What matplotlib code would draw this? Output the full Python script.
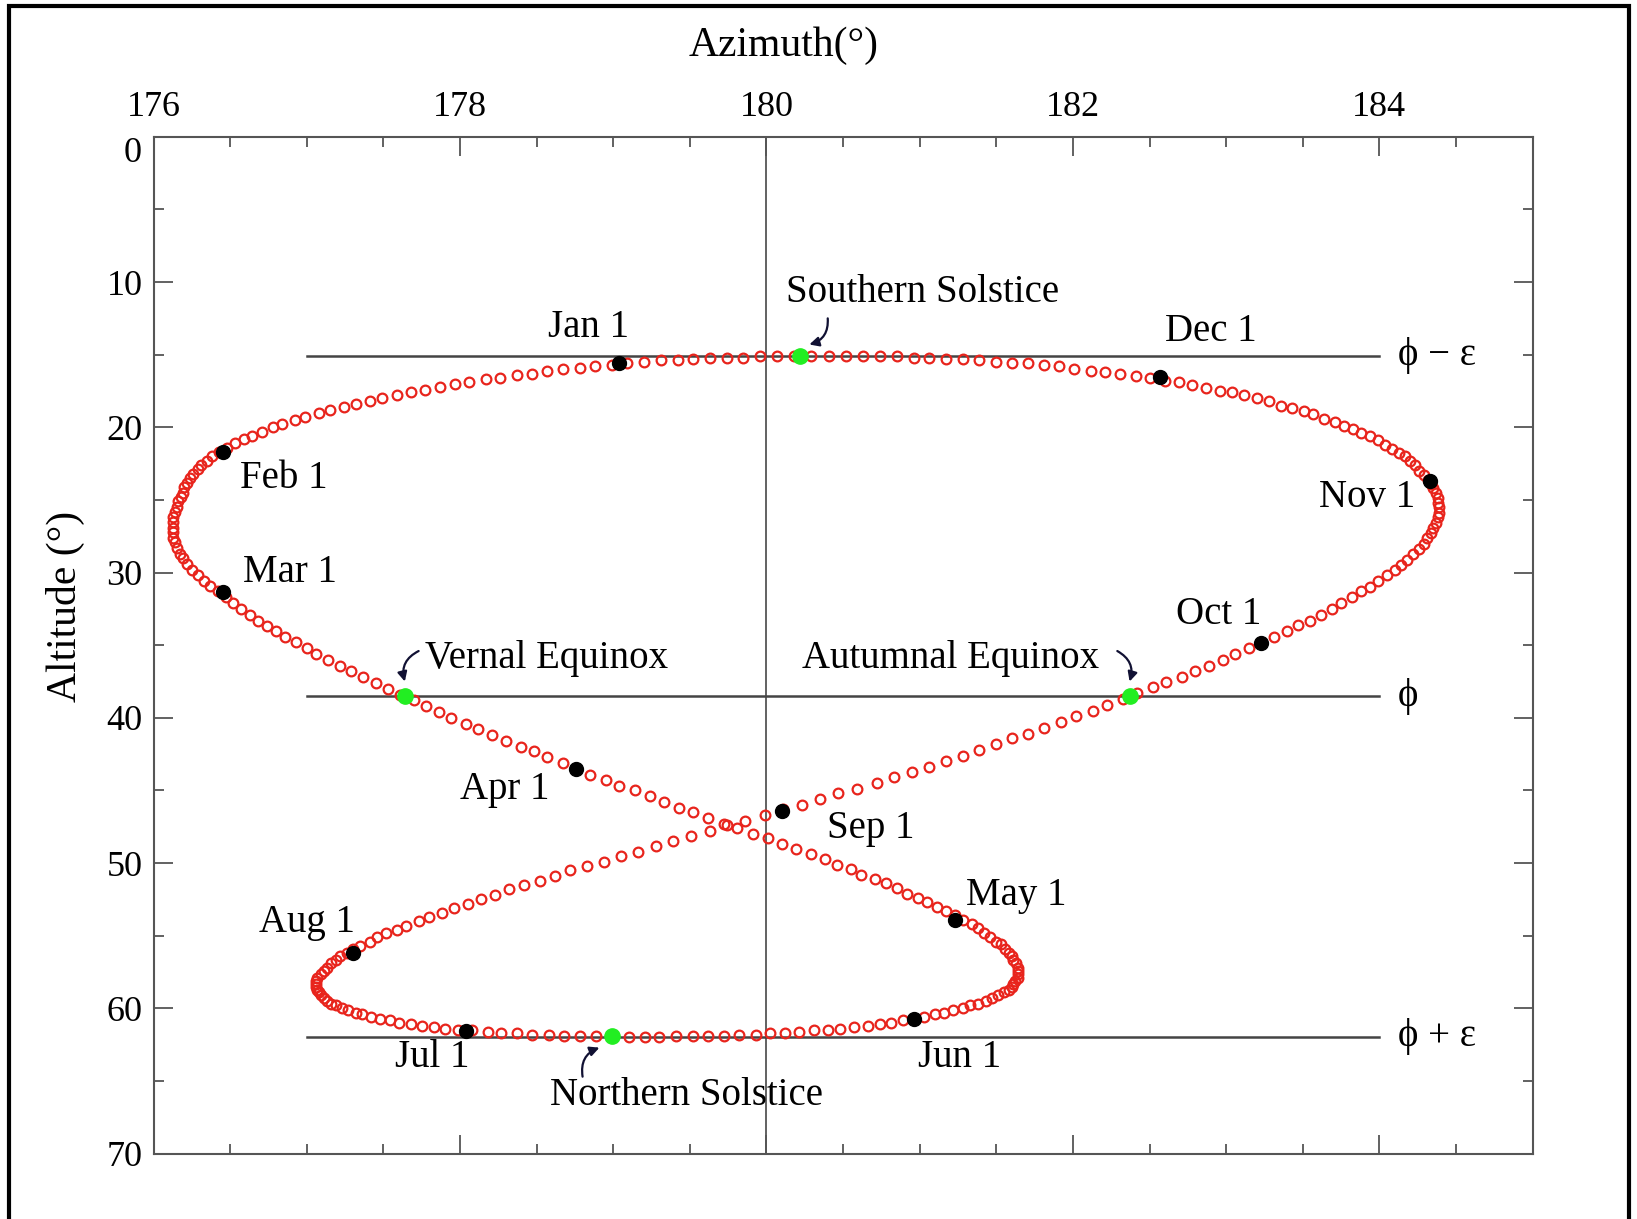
import numpy as np
import matplotlib
matplotlib.use('Agg')
import matplotlib.pyplot as plt
from matplotlib.patches import Rectangle
from matplotlib.ticker import MultipleLocator, FixedLocator, FixedFormatter

plt.rcParams['font.family'] = ['Liberation Serif', 'DejaVu Serif']

### Data

# noon azimuth, one value per day from Jan 1, as (azimuth - 176) * 100
az_centi = [
    331, 320, 309, 299, 288, 278, 267, 257, 247, 237, 226, 217, 206, 197, 187, 177, 168, 159, 149, 141,
    132, 124, 115, 108, 99, 92, 84, 78, 71, 64, 59, 53, 48, 43, 38, 35, 31, 29, 26, 24,
    22, 20, 19, 18, 16, 15, 14, 13, 13, 13, 13, 13, 14, 15, 17, 19, 22, 25, 29, 33,
    37, 42, 47, 52, 57, 63, 68, 74, 80, 86, 93, 100, 106, 114, 122, 129, 137, 145, 153, 161,
    170, 178, 186, 194, 204, 212, 221, 230, 240, 248, 257, 267, 276, 285, 295, 304, 314, 324, 333, 343,
    352, 362, 372, 381, 391, 401, 410, 419, 429, 438, 446, 455, 462, 471, 478, 485, 492, 499, 505, 511,
    517, 523, 528, 534, 538, 542, 546, 550, 553, 556, 558, 560, 561, 563, 564, 564, 564, 564, 562, 561,
    560, 558, 555, 551, 547, 543, 538, 533, 528, 522, 516, 510, 503, 496, 489, 481, 474, 466, 457, 448,
    440, 431, 421, 412, 402, 393, 382, 372, 362, 352, 341, 330, 321, 310, 299, 289, 278, 268, 258, 247,
    237, 227, 218, 208, 199, 190, 183, 175, 168, 160, 154, 148, 142, 136, 132, 127, 123, 119, 116, 113,
    111, 109, 108, 107, 106, 106, 106, 107, 109, 111, 113, 116, 119, 122, 126, 130, 135, 141, 146, 152,
    159, 165, 173, 180, 188, 196, 205, 214, 223, 232, 242, 252, 262, 272, 283, 294, 305, 316, 328, 339,
    351, 363, 374, 386, 399, 411, 423, 435, 447, 459, 472, 483, 495, 506, 517, 528, 539, 550, 560, 571,
    581, 592, 602, 613, 622, 633, 642, 652, 661, 671, 680, 689, 698, 706, 715, 723, 731, 740, 747, 755,
    762, 769, 775, 782, 788, 794, 799, 805, 810, 814, 818, 822, 826, 829, 831, 834, 835, 837, 838, 839,
    839, 838, 838, 837, 835, 834, 832, 829, 826, 823, 820, 817, 813, 808, 804, 799, 794, 788, 783, 777,
    771, 764, 757, 751, 743, 736, 728, 720, 712, 704, 696, 687, 678, 669, 660, 650, 641, 631, 621, 612,
    601, 591, 581, 571, 560, 550, 539, 528, 517, 506, 496, 485, 474, 463, 452, 441, 429, 418, 407, 396,
    385, 374, 363, 352, 342,
]

# noon altitude, one value per day from Jan 1, in tenths of a degree
alt_deci = [
    154, 155, 156, 157, 158, 159, 160, 161, 163, 164, 166, 167, 169, 170, 172, 174, 176, 178, 180, 182,
    184, 186, 188, 190, 193, 195, 198, 200, 203, 206, 208, 211, 214, 217, 220, 223, 226, 229, 232, 235,
    238, 241, 245, 248, 251, 255, 258, 262, 265, 269, 272, 276, 279, 283, 287, 290, 294, 298, 302, 306,
    309, 313, 317, 321, 325, 329, 333, 337, 340, 344, 348, 352, 356, 360, 364, 368, 372, 376, 380, 384,
    388, 392, 396, 400, 404, 408, 412, 416, 420, 423, 427, 431, 435, 439, 443, 447, 450, 454, 458, 462,
    465, 469, 473, 476, 480, 483, 487, 490, 494, 497, 501, 504, 508, 511, 514, 517, 521, 524, 527, 530,
    533, 536, 539, 542, 545, 548, 551, 554, 556, 559, 562, 564, 567, 569, 572, 574, 576, 579, 581, 583,
    585, 587, 589, 591, 593, 595, 597, 598, 600, 601, 603, 604, 606,
    607, 608, 610, 611, 612, 613, 614, 615, 615, 616, 617, 617, 618, 618, 619, 619, 619, 619, 620, 620,
    620, 619, 619, 619, 619, 618, 618, 617, 617, 616, 615, 615, 614, 613, 612, 611, 610, 608, 607, 606,
    604, 603, 601, 600, 598, 597, 595, 593, 591, 589, 587, 585, 583, 581, 579, 576, 574, 572, 569, 567,
    564, 562, 559, 557, 554, 551, 548, 546, 543, 540, 537, 534, 531, 528, 525, 522, 518, 515, 512, 509,
    505, 502, 499, 495, 492, 488, 485, 481, 478, 474, 471, 467, 463, 460, 456, 452, 449, 445, 441, 437,
    434, 430, 426, 422, 418, 414, 411, 407, 403, 399, 395, 391, 387, 383, 379, 375, 372, 368, 364, 360,
    356, 352, 348, 344, 340, 336, 333, 329, 325, 321, 317, 313, 310, 306, 302, 298, 295, 291, 287, 284,
    280, 276, 273, 269, 266, 262, 259, 255, 252, 249, 245, 242, 239, 236, 233, 230, 226, 223, 220, 218,
    215, 212, 209, 206, 204, 201, 199, 196, 194, 191, 189, 187, 185, 182, 180, 178, 176, 175, 173, 171,
    169, 168, 166, 165, 163, 162, 161, 160, 158, 157, 156, 156, 155, 154, 153, 153, 152, 152, 151, 151,
    151, 151, 151, 151, 151, 151, 151, 152, 152, 152, 153, 154,
]

azimuth = 176 + np.array(az_centi) / 100.0
altitude = np.array(alt_deci) / 10.0

# first of each month
month_labels = ['Jan 1', 'Feb 1', 'Mar 1', 'Apr 1', 'May 1', 'Jun 1',
                'Jul 1', 'Aug 1', 'Sep 1', 'Oct 1', 'Nov 1', 'Dec 1']
month_az = [179.04, 176.45, 176.45, 178.76, 181.23, 180.96, 178.04, 177.30, 180.10, 183.23, 184.33, 182.57]
month_alt = [15.59, 21.67, 31.31, 43.51, 53.90, 60.74, 61.54, 56.20, 46.40, 34.86, 23.67, 16.51]
month_text_az = [178.84, 176.85, 176.89, 178.29, 181.63, 181.26, 177.82, 177.00, 180.68, 182.95, 183.92, 182.90]
month_text_alt = [13.1, 23.5, 30.0, 44.9, 52.2, 63.4, 63.4, 54.1, 47.6, 32.9, 24.8, 13.4]

# equinoxes and solstices
event_labels = ['Southern Solstice', 'Vernal Equinox', 'Autumnal Equinox', 'Northern Solstice']
event_az = [180.22, 177.64, 182.37, 178.99]
event_alt = [15.06, 38.50, 38.50, 61.90]

# reference altitudes: phi - eps, phi, phi + eps
ref_alt = [15.06, 38.50, 61.94]
ref_labels = ['\u03d5 \u2212 \u03b5', '\u03d5', '\u03d5 + \u03b5']

y_ticks = [0, 10, 20, 30, 40, 50, 60, 70]

### Figure

fig = plt.figure(figsize=(16.37, 12.19), dpi=100)
ax = fig.add_axes([0.0938, 0.0536, 0.8424, 0.8342])

fig.patches.append(Rectangle((0.0055, -0.02), 0.9896, 1.0148, transform=fig.transFigure,
                             fill=False, edgecolor='black', linewidth=3, clip_on=False))

gray = '#555555'
ax.axvline(180, color=gray, lw=1.3, zorder=1)
for a, lab in zip(ref_alt, ref_labels):
    ax.plot([177, 184], [a, a], color='#444444', lw=1.8, zorder=1)
    ax.text(184.12, a, lab, fontsize=28, ha='left', va='center')

# daily sun positions
ax.plot(azimuth, altitude, linestyle='none', marker='o', ms=7, mfc='none',
        mec='#e8241c', mew=1.6, zorder=2)
ax.plot(month_az, month_alt, linestyle='none', marker='o', ms=10, color='black', zorder=4)
ax.plot(event_az, event_alt, linestyle='none', marker='o', ms=11, color='#22ee22', zorder=4)

for lab, x, y in zip(month_labels, month_text_az, month_text_alt):
    ax.text(x, y, lab, fontsize=28, ha='center', va='center')

ax.text(181.02, 10.7, event_labels[0], fontsize=28, ha='center', va='center')
ax.text(177.77, 35.9, event_labels[1], fontsize=28, ha='left', va='center')
ax.text(181.20, 35.9, event_labels[2], fontsize=28, ha='center', va='center')
ax.text(179.48, 66.0, event_labels[3], fontsize=28, ha='center', va='center')

arrow = dict(arrowstyle='-|>', color='#111133', lw=1.6, mutation_scale=14, shrinkA=0, shrinkB=0)
ax.annotate('', xy=(180.28, 14.3), xytext=(180.40, 12.5),
            arrowprops=dict(arrow, connectionstyle='arc3,rad=-0.4'))
ax.annotate('', xy=(177.64, 37.5), xytext=(177.73, 35.4),
            arrowprops=dict(arrow, connectionstyle='arc3,rad=0.4'))
ax.annotate('', xy=(182.37, 37.5), xytext=(182.29, 35.4),
            arrowprops=dict(arrow, connectionstyle='arc3,rad=-0.4'))
ax.annotate('', xy=(178.91, 62.7), xytext=(178.80, 64.7),
            arrowprops=dict(arrow, connectionstyle='arc3,rad=-0.4'))

### Axes

ax.set_xlim(176, 185)
ax.set_ylim(70, 0)
ax.xaxis.set_major_locator(MultipleLocator(2))
ax.xaxis.set_minor_locator(MultipleLocator(0.5))
ax.yaxis.set_major_locator(FixedLocator(y_ticks))
# the "0" label sits a little below its tick in the original
ax.yaxis.set_major_formatter(FixedFormatter([''] + [str(t) for t in y_ticks[1:]]))
ax.yaxis.set_minor_locator(MultipleLocator(5))
ax.text(-0.0085, 1.15, str(y_ticks[0]), transform=ax.get_yaxis_transform(),
        fontsize=26, ha='right', va='center')
ax.tick_params(which='both', direction='in', top=True, bottom=True, left=True, right=True,
               labeltop=True, labelbottom=False, color=gray, width=1.3, labelsize=26)
ax.tick_params(which='major', length=14)
ax.tick_params(which='minor', length=7.5)
ax.tick_params(axis='x', pad=9)
ax.tick_params(axis='y', pad=8)
for s in ax.spines.values():
    s.set_color(gray)
    s.set_linewidth(1.5)

ax.set_xlabel('Azimuth(\u00b0)', fontsize=30, va='center')
ax.xaxis.set_label_position('top')
ax.xaxis.set_label_coords(0.457, 1.079)
ax.set_ylabel('Altitude (\u00b0)', fontsize=30, va='center')
ax.yaxis.set_label_coords(-0.064, 0.538)

fig.savefig('out.png')
plt.close(fig)
